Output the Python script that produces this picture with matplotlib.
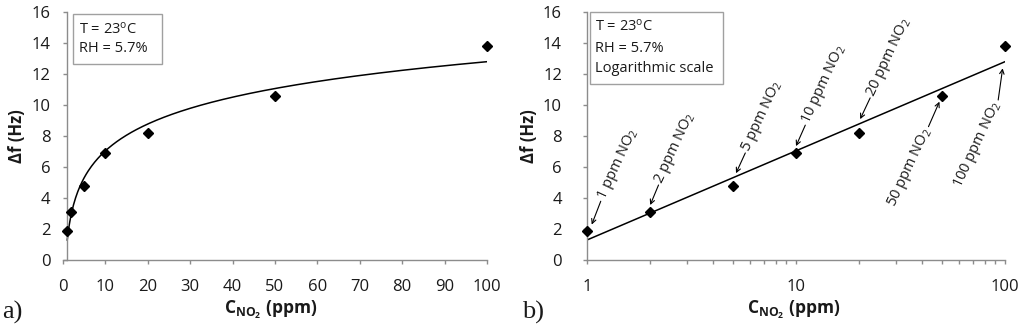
import numpy as np
import matplotlib
matplotlib.use('Agg')
import matplotlib.pyplot as plt
from matplotlib.patches import Rectangle
from matplotlib.transforms import offset_copy

plt.rcParams['font.family'] = ['Open Sans', 'DejaVu Sans']
plt.rcParams['mathtext.default'] = 'regular'

# data
conc = [1, 2, 5, 10, 20, 50, 100]          # ppm NO2
df_hz = [1.9, 3.1, 4.8, 6.9, 8.2, 10.6, 13.8]
ann_labels = [f"{c} ppm NO$_2$" for c in conc]
x_ticks_lin = list(range(0, 101, 10))
y_ticks = list(range(0, 17, 2))

# annotation layout (points): arrow tip offset from the marker, arrow vector tip->tail
ann_tip = [(3.4, 4.3), (0.2, 5), (2.1, 8.9), (0, 5), (0.9, 9.9), (-1.9, -4.3), (-1.7, -16)]
ann_vec = [(6.5, 16.8), (6, 14.4), (6.7, 14.6), (6.7, 15.1), (7.2, 15.3), (-7.9, -18), (-3.2, -22.8)]
ann_side = ['left', 'left', 'left', 'left', 'left', 'right', 'right']

# logarithmic trendline, like the Excel one
a, b = np.polyfit(np.log(conc), df_hz, 1)
xfit = np.linspace(1, 100, 400)
yfit = a * np.log(xfit) + b

fig = plt.figure(figsize=(10.24, 3.35), dpi=100)
ax1 = fig.add_axes([63 / 1024, 75 / 335, 424 / 1024, 248 / 335])
ax2 = fig.add_axes([587 / 1024, 75 / 335, 418 / 1024, 248 / 335])

axis_col = '#8c8c8c'
txt_col = '#1a1a1a'
for ax in (ax1, ax2):
    ax.plot(xfit, yfit, color='black', lw=1.1, zorder=2)
    ax.plot(conc, df_hz, 'D', color='black', ms=5.5, zorder=3, clip_on=False)
    ax.set_ylim(0, 16)
    ax.set_yticks(y_ticks)
    for s in ('top', 'right'):
        ax.spines[s].set_visible(False)
    for s in ('left', 'bottom'):
        ax.spines[s].set_color(axis_col)
        ax.spines[s].set_linewidth(1)
    ax.tick_params(which='both', color=axis_col, length=3, width=1,
                   labelsize=12, labelcolor=txt_col)
    ax.tick_params(axis='x', which='both', pad=11)
    ax.set_ylabel('Δf (Hz)', fontweight='bold', fontsize=12, color=txt_col)
    ax.set_xlabel('C$_{NO_2}$ (ppm)', fontweight='bold', fontsize=12.5, color=txt_col)

# left panel: linear x, vertical axis crossing at x = 1
ax1.set_xlim(0, 100)
ax1.set_xticks(x_ticks_lin)
ax1.spines['left'].set_position(('data', 1))
ax1.tick_params(axis='y', pad=9)
ax1.yaxis.set_label_coords(-0.087, 0.5)
ax1.xaxis.set_label_coords(0.49, -0.158)

ax1.add_patch(Rectangle((0.0236, 0.790), 0.21, 0.202, transform=ax1.transAxes,
                        fill=False, edgecolor='#a0a0a0', lw=1, clip_on=False))
ax1.text(0.0377, 0.931, 'T = 23$^{o}$C', transform=ax1.transAxes, fontsize=10.5,
         va='center', ha='left', color=txt_col)
ax1.text(0.0377, 0.851, 'RH = 5.7%', transform=ax1.transAxes, fontsize=10.5,
         va='center', ha='left', color=txt_col)

# right panel: log x
ax2.set_xscale('log')
ax2.set_xlim(1, 100)
ax2.set_xticks([1, 10, 100])
ax2.set_xticklabels(['1', '10', '100'])
ax2.xaxis.set_minor_formatter(matplotlib.ticker.NullFormatter())
ax2.tick_params(axis='y', pad=15)
ax2.yaxis.set_label_coords(-0.117, 0.5)
ax2.xaxis.set_label_coords(0.495, -0.158)

ax2.add_patch(Rectangle((0.0072, 0.710), 0.318, 0.29, transform=ax2.transAxes,
                        fill=False, edgecolor='#a0a0a0', lw=1, clip_on=False))
for ty, t in zip([0.943, 0.853, 0.773], ['T = 23$^{o}$C', 'RH = 5.7%', 'Logarithmic scale']):
    ax2.text(0.019, ty, t, transform=ax2.transAxes, fontsize=10.5,
             va='center', ha='left', color=txt_col)

for c, v, lab, tip, vec, side in zip(conc, df_hz, ann_labels, ann_tip, ann_vec, ann_side):
    tip_tr = offset_copy(ax2.transData, fig=fig, x=tip[0], y=tip[1], units='points')
    ax2.annotate('', xy=(c, v), xycoords=tip_tr, xytext=vec, textcoords='offset points',
                 arrowprops=dict(arrowstyle='->', color='black', lw=0.8,
                                 shrinkA=0, shrinkB=0, mutation_scale=8))
    ln = np.hypot(*vec)
    gap = 1.5
    tx = tip[0] + vec[0] * (ln + gap) / ln
    ty = tip[1] + vec[1] * (ln + gap) / ln
    txt_tr = offset_copy(ax2.transData, fig=fig, x=tx, y=ty, units='points')
    ax2.text(c, v, lab, transform=txt_tr, rotation=65, rotation_mode='anchor',
             ha=side, va='center', fontsize=10.5, color=txt_col)

fig.text(2 / 1024, 1 - 312 / 335, 'a)', family='Liberation Serif', fontsize=19,
         va='center', ha='left', color=txt_col)
fig.text(522 / 1024, 1 - 312 / 335, 'b)', family='Liberation Serif', fontsize=19,
         va='center', ha='left', color=txt_col)

fig.savefig('out.png', dpi=100)
